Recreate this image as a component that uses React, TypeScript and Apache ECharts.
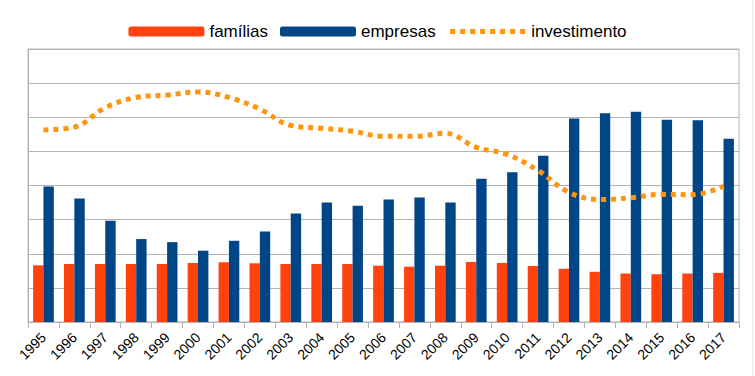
import React, { useEffect, useRef } from "react";
import * as echarts from "echarts";

const years = ["1995","1996","1997","1998","1999","2000","2001","2002","2003","2004","2005","2006","2007","2008","2009","2010","2011","2012","2013","2014","2015","2016","2017"];
const familias = [1.66,1.70,1.70,1.70,1.70,1.73,1.75,1.72,1.70,1.70,1.70,1.65,1.62,1.65,1.76,1.73,1.64,1.56,1.47,1.42,1.40,1.42,1.44];
const empresas = [3.97,3.62,2.97,2.43,2.34,2.09,2.38,2.65,3.18,3.50,3.41,3.59,3.65,3.50,4.20,4.39,4.87,5.96,6.12,6.16,5.93,5.91,5.37];
const investimento = [5.63,5.71,6.28,6.58,6.65,6.74,6.58,6.24,5.76,5.68,5.59,5.44,5.44,5.53,5.12,4.91,4.44,3.80,3.59,3.64,3.74,3.73,3.98];

export default function App() {
  const ref = useRef<HTMLDivElement>(null);
  useEffect(() => {
    const chart = echarts.init(ref.current!, null, { renderer: "svg" });
    chart.setOption({
      animation: false,
      backgroundColor: "#ffffff",
      legend: {
        top: 18,
        left: "center",
        itemWidth: 76,
        itemHeight: 10,
        itemGap: 12,
        textStyle: { fontFamily: "Liberation Sans", fontSize: 17, color: "#000" },
        data: [
          "famílias",
          "empresas",
          {
            name: "investimento",
            itemStyle: { opacity: 0 },
            lineStyle: { width: 5, type: [5, 5], color: "#ff950e", cap: "butt" },
          },
        ],
      },
      graphic: [
        {
          type: "line",
          shape: { x1: 753, y1: 0, x2: 753, y2: 376 },
          style: { stroke: "#e4e4ec", lineWidth: 1 },
          silent: true,
        },
      ],
      grid: {
        left: 28,
        right: 16,
        top: 49,
        bottom: 54,
        show: true,
        borderColor: "#b3b3b3",
        borderWidth: 1,
      },
      xAxis: {
        type: "category",
        data: years,
        boundaryGap: true,
        axisLine: { lineStyle: { color: "#b3b3b3" } },
        axisTick: { show: true, length: 6, lineStyle: { color: "#b3b3b3" } },
        axisLabel: {
          rotate: 45,
          interval: 0,
          fontFamily: "Liberation Sans",
          fontSize: 14,
          color: "#000",
          margin: 13,
        },
      },
      yAxis: {
        type: "value",
        min: 0,
        max: 8,
        interval: 1,
        axisLabel: { show: false },
        axisTick: { show: false },
        axisLine: { show: true, lineStyle: { color: "#b3b3b3" } },
        splitLine: { lineStyle: { color: "#b3b3b3" } },
      },
      series: [
        {
          name: "famílias",
          type: "bar",
          data: familias,
          barGap: "0%",
          barCategoryGap: "33%",
          itemStyle: { color: "#ff420e" },
        },
        {
          name: "empresas",
          type: "bar",
          data: empresas,
          barGap: "0%",
          barCategoryGap: "33%",
          itemStyle: { color: "#004586" },
        },
        {
          name: "investimento",
          type: "line",
          data: investimento,
          smooth: 0.4,
          symbol: "none",
          itemStyle: { color: "#ff950e" },
          lineStyle: { color: "#ff950e", width: 5, type: [5, 5], cap: "butt" },
          z: 5,
        },
      ],
    });
    return () => chart.dispose();
  }, []);
  return <div ref={ref} style={{ position: "fixed", left: 0, top: 0, width: 755, height: 376 }} />;
}
